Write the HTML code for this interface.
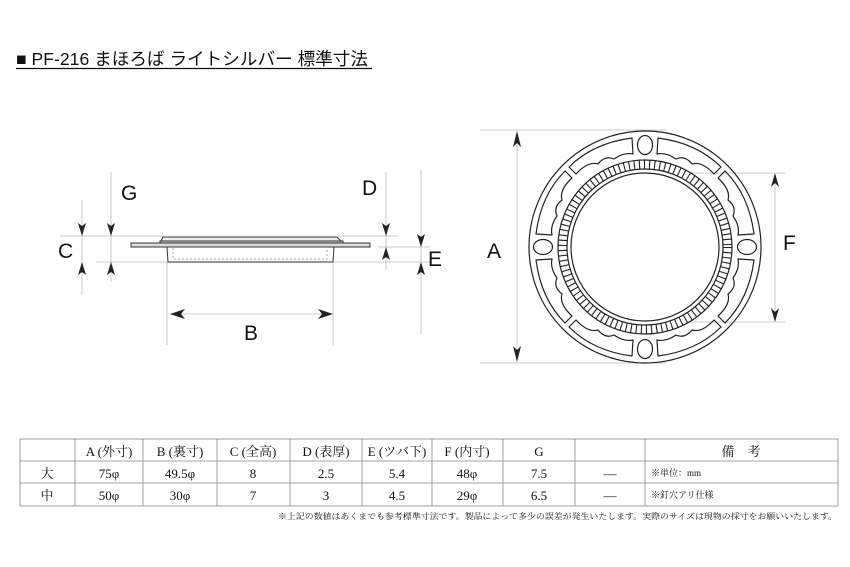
<!DOCTYPE html>
<html><head><meta charset="utf-8"><style>
body{margin:0;background:#fff;}
svg{display:block;}
text{font-family:"Liberation Sans","Noto Sans CJK JP",sans-serif;}
.s{font-family:"Liberation Serif","Noto Serif CJK SC",serif;}
.t text{font-size:13px;}
</style></head><body>
<svg width="850" height="567" viewBox="0 0 850 567" xmlns="http://www.w3.org/2000/svg">
<text x="16" y="65" font-size="17.5" fill="#111" textLength="352" lengthAdjust="spacingAndGlyphs">■ PF-216 まほろば ライトシルバー 標準寸法</text>
<line x1="16" y1="68.5" x2="372" y2="68.5" stroke="#111" stroke-width="1.3"/>

<!-- side view -->
<g stroke="#bbb" stroke-width="0.8">
<line x1="60" y1="236" x2="163" y2="236"/><line x1="96" y1="262" x2="167" y2="262"/>
<line x1="338" y1="236" x2="398" y2="236"/><line x1="378" y1="247" x2="430" y2="247"/>
<line x1="335" y1="262" x2="430" y2="262"/>
<line x1="167" y1="262" x2="167" y2="345"/><line x1="333" y1="262" x2="333" y2="345"/>
<line x1="82" y1="200" x2="82" y2="295"/><line x1="111" y1="172" x2="111" y2="282"/>
<line x1="386" y1="172" x2="386" y2="270"/><line x1="421" y1="170" x2="421" y2="335"/>
<line x1="170" y1="314" x2="331" y2="314"/>
</g>
<g fill="none" stroke="#333" stroke-width="1">
<rect x="131" y="243" width="239" height="4" fill="#ddd"/>
<path d="M160,243 L163,237 L337,237 L343,243 Z" fill="#eee"/>
<rect x="160" y="241" width="183" height="2" fill="#ccc"/>
<path d="M167,247 L168,262 L333,262 L334,247"/>
<path d="M173,248 V259 H327 V248" stroke="#aaa" stroke-dasharray="2,2"/>
</g>
<g fill="#222">
<path d="M82,236 l-4,-13 l4,3 l4,-3 Z"/><path d="M82,262 l-4,13 l4,-3 l4,3 Z"/>
<path d="M111,236 l-4,-13 l4,3 l4,-3 Z"/><path d="M111,262 l-4,13 l4,-3 l4,3 Z"/>
<path d="M386,236 l-4,-13 l4,3 l4,-3 Z"/><path d="M386,247 l-4,13 l4,-3 l4,3 Z"/>
<path d="M421,247 l-4,-13 l4,3 l4,-3 Z"/><path d="M421,262 l-4,13 l4,-3 l4,3 Z"/>
<path d="M170,314 l15,-5 l-4,5 l4,5 Z"/><path d="M333,314 l-15,-5 l4,5 l-4,5 Z"/>
</g>
<g font-size="21" fill="#111">
<text x="121" y="200">G</text><text x="58" y="258">C</text>
<text x="362" y="195">D</text><text x="428" y="266">E</text><text x="244" y="340">B</text>
</g>

<!-- top view -->
<g stroke="#bbb" stroke-width="0.8">
<line x1="480" y1="130" x2="666" y2="130"/><line x1="480" y1="363" x2="666" y2="363"/>
<line x1="690" y1="173" x2="785" y2="173"/><line x1="690" y1="322" x2="785" y2="322"/>
<line x1="517" y1="135" x2="517" y2="358"/><line x1="775" y1="178" x2="775" y2="318"/>
</g>
<g fill="#222">
<path d="M517,131 l-4,16 l4,-4 l4,4 Z"/><path d="M517,362 l-4,-16 l4,4 l4,-4 Z"/>
<path d="M775,173 l-4,14 l4,-4 l4,4 Z"/><path d="M775,322 l-4,-14 l4,4 l4,-4 Z"/>
</g>
<text x="487" y="258" font-size="21" fill="#111">A</text>
<text x="783" y="250" font-size="21" fill="#111">F</text>
<g transform="translate(645,247)" fill="none" stroke="#222" stroke-width="1.2">
<circle r="116"/>
<circle r="74"/><circle r="78"/><circle r="87"/>
<circle r="82.5" stroke-width="9" stroke-dasharray="1.1 4"/>
<g id="ov"><ellipse cx="0" cy="-102" rx="7.5" ry="9.5"/></g>
<use href="#ov" transform="rotate(90)"/><use href="#ov" transform="rotate(180)"/><use href="#ov" transform="rotate(270)"/>
<g id="sl"><path d="M13,-109 Q52,-104 76,-80 L69,-73 Q57,-86 47,-83 Q40,-92 31,-88 Q21,-95 12,-93 Z" stroke-linejoin="round"/></g>
<use href="#sl" transform="scale(-1,1)"/>
<use href="#sl" transform="rotate(90)"/><use href="#sl" transform="rotate(90) scale(-1,1)"/>
<use href="#sl" transform="rotate(180)"/><use href="#sl" transform="rotate(180) scale(-1,1)"/>
<use href="#sl" transform="rotate(270)"/><use href="#sl" transform="rotate(270) scale(-1,1)"/>
</g>

<!-- table -->
<g stroke="#888" stroke-width="0.8" fill="none">
<rect x="20" y="439" width="818" height="67"/>
<line x1="20" y1="461" x2="838" y2="461"/><line x1="20" y1="483" x2="838" y2="483"/>
<line x1="75" y1="439" x2="75" y2="506"/><line x1="143" y1="439" x2="143" y2="506"/>
<line x1="217" y1="439" x2="217" y2="506"/><line x1="290" y1="439" x2="290" y2="506"/>
<line x1="362" y1="439" x2="362" y2="506"/><line x1="432" y1="439" x2="432" y2="506"/>
<line x1="503" y1="439" x2="503" y2="506"/><line x1="575" y1="439" x2="575" y2="506"/>
<line x1="645" y1="439" x2="645" y2="506"/>
</g>
<g class="t" fill="#111" text-anchor="middle">
<text x="109" y="456" class="s">A (外寸)</text><text x="180" y="456" class="s">B (裏寸)</text>
<text x="253" y="456" class="s">C (全高)</text><text x="326" y="456" class="s">D (表厚)</text>
<text x="397" y="456" class="s">E (ツバ下)</text><text x="467" y="456" class="s">F (内寸)</text>
<text x="539" y="456" class="s">G</text><text x="741" y="456" class="s">備　考</text>
<text x="47" y="478" class="s">大</text><text x="109" y="478" class="s">75φ</text><text x="180" y="478" class="s">49.5φ</text>
<text x="253" y="478" class="s">8</text><text x="326" y="478" class="s">2.5</text><text x="397" y="478" class="s">5.4</text>
<text x="467" y="478" class="s">48φ</text><text x="539" y="478" class="s">7.5</text><text x="610" y="478" class="s">—</text>
<text x="47" y="500" class="s">中</text><text x="109" y="500" class="s">50φ</text><text x="180" y="500" class="s">30φ</text>
<text x="253" y="500" class="s">7</text><text x="326" y="500" class="s">3</text><text x="397" y="500" class="s">4.5</text>
<text x="467" y="500" class="s">29φ</text><text x="539" y="500" class="s">6.5</text><text x="610" y="500" class="s">—</text>
</g>
<text x="651" y="476" class="s" style="font-size:9px" fill="#111">※単位：mm</text>
<text x="651" y="498" class="s" style="font-size:9px" fill="#111">※釘穴アリ仕様</text>
<text x="837" y="519" class="s" style="font-size:8px" fill="#111" text-anchor="end" textLength="559" lengthAdjust="spacingAndGlyphs">※上記の数値はあくまでも参考標準寸法です。製品によって多少の誤差が発生いたします。実際のサイズは現物の採寸をお願いいたします。</text>
</svg>
</body></html>
